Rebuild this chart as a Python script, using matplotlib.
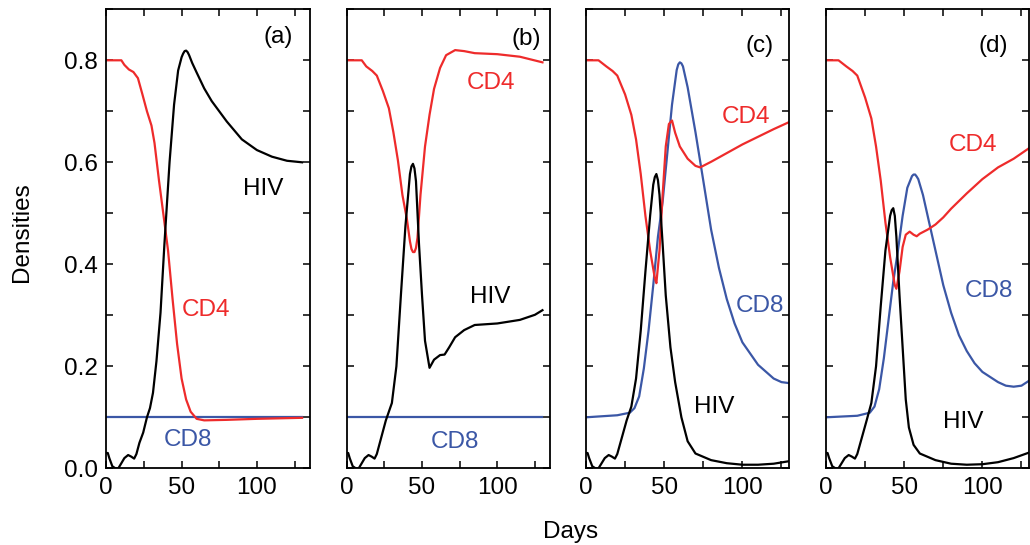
import matplotlib
matplotlib.use('Agg')
import matplotlib.pyplot as plt
from matplotlib.ticker import MultipleLocator

plt.rcParams['font.family'] = ['Liberation Sans', 'DejaVu Sans']
plt.rcParams['font.size'] = 17.5

RED = '#ee2b2b'
BLUE = '#3b57a6'

# panel (a)
a_hiv_days = [0, 1, 2, 4, 6, 8, 10, 12, 14.5, 16.5, 18.5, 20, 22, 24.5, 27, 29, 31, 33.3, 36, 38.6,
              42, 45, 47.7, 50, 51, 52, 53, 54, 55, 57, 60, 65, 70, 80, 90, 100, 110, 120, 130]
a_hiv = [0.03, 0.03, 0.02, 0.004, 0.0, 0.0, 0.01, 0.02, 0.026, 0.023, 0.019, 0.028, 0.05, 0.07, 0.1,
         0.118, 0.148, 0.21, 0.305, 0.44, 0.6, 0.713, 0.78, 0.806, 0.813, 0.818, 0.819, 0.816, 0.81,
         0.795, 0.776, 0.745, 0.72, 0.68, 0.645, 0.624, 0.611, 0.603, 0.6]
a_cd4_days = [0, 10, 12, 15, 18, 21, 24, 27, 30, 32, 35, 38, 41, 44, 47, 50, 53, 56, 60, 65, 80, 100, 130]
a_cd4 = [0.8, 0.8, 0.791, 0.782, 0.777, 0.765, 0.733, 0.70, 0.672, 0.638, 0.564, 0.496, 0.427, 0.332,
         0.244, 0.176, 0.135, 0.111, 0.097, 0.094, 0.095, 0.097, 0.099]
a_cd8_days = [0, 130]
a_cd8 = [0.1, 0.1]

# panel (b)
b_hiv_days = [0, 1, 2, 4, 6, 8, 10, 12, 14.5, 16.5, 18.5, 20, 22, 26, 30, 33, 36, 39, 42, 43, 44, 45,
              46, 48, 50, 52, 55, 58, 62, 65, 68, 72, 78, 85, 100, 115, 125, 130]
b_hiv = [0.03, 0.03, 0.02, 0.004, 0.0, 0.0, 0.01, 0.02, 0.026, 0.023, 0.019, 0.028, 0.05, 0.094,
         0.128, 0.2, 0.34, 0.475, 0.577, 0.592, 0.597, 0.588, 0.563, 0.44, 0.34, 0.25, 0.197, 0.213,
         0.222, 0.223, 0.237, 0.257, 0.271, 0.281, 0.284, 0.291, 0.301, 0.31]
b_cd4_days = [0, 10, 13, 17, 20, 24, 28, 31, 34, 37, 40, 42, 43, 44, 45, 46, 47, 49, 52, 55, 58, 62,
              66, 72, 78, 85, 100, 115, 130]
b_cd4 = [0.8, 0.8, 0.788, 0.779, 0.77, 0.74, 0.706, 0.659, 0.604, 0.536, 0.488, 0.445, 0.43, 0.424,
         0.424, 0.432, 0.452, 0.536, 0.631, 0.693, 0.744, 0.785, 0.81, 0.82, 0.818, 0.814, 0.812,
         0.807, 0.796]
b_cd8_days = [0, 130]
b_cd8 = [0.1, 0.1]

# panel (c)
c_hiv_days = [0, 1, 2, 4, 6, 8, 10, 12, 14.5, 16.5, 18.5, 20, 22, 26, 29, 32, 35, 38, 41, 43, 44, 45,
              46, 47, 49, 51, 54, 57, 61, 65, 70, 80, 90, 100, 110, 120, 130]
c_hiv = [0.03, 0.03, 0.02, 0.004, 0.0, 0.0, 0.01, 0.02, 0.026, 0.023, 0.019, 0.028, 0.05, 0.094,
         0.121, 0.176, 0.27, 0.386, 0.495, 0.556, 0.571, 0.577, 0.565, 0.536, 0.44, 0.339, 0.237,
         0.169, 0.1, 0.053, 0.029, 0.016, 0.01, 0.007, 0.007, 0.009, 0.014]
c_cd4_days = [0, 8, 13, 17, 20, 25, 29, 32, 35, 38, 41, 44, 45, 47, 49, 51, 53, 55, 57, 60, 65, 70,
              73, 80, 90, 100, 110, 120, 130]
c_cd4 = [0.8, 0.8, 0.788, 0.779, 0.77, 0.733, 0.693, 0.645, 0.577, 0.495, 0.427, 0.373, 0.363,
         0.427, 0.536, 0.631, 0.675, 0.682, 0.658, 0.631, 0.607, 0.593, 0.59, 0.601, 0.618, 0.635,
         0.65, 0.665, 0.679]
c_cd8_days = [0, 10, 20, 28, 31, 34, 37, 40, 43, 46, 49, 52, 55, 58, 59, 60, 61, 62, 65, 70, 75, 80,
              85, 90, 95, 100, 110, 120, 125, 130]
c_cd8 = [0.1, 0.102, 0.104, 0.109, 0.118, 0.141, 0.196, 0.27, 0.359, 0.454, 0.523, 0.618, 0.713,
         0.781, 0.792, 0.796, 0.794, 0.788, 0.747, 0.659, 0.564, 0.468, 0.393, 0.332, 0.284, 0.247,
         0.203, 0.176, 0.169, 0.167]

# panel (d)
d_hiv_days = [0, 1, 2, 4, 6, 8, 10, 12, 14.5, 16.5, 18.5, 20, 22, 26, 29, 32, 35, 38, 41, 42, 43, 44,
              45, 47, 49, 51, 53, 56, 60, 70, 80, 90, 100, 110, 120, 130]
d_hiv = [0.03, 0.03, 0.02, 0.004, 0.0, 0.0, 0.01, 0.02, 0.026, 0.023, 0.019, 0.028, 0.05, 0.094,
         0.128, 0.2, 0.318, 0.427, 0.495, 0.506, 0.51, 0.495, 0.454, 0.339, 0.237, 0.135, 0.08,
         0.046, 0.029, 0.016, 0.009, 0.007, 0.008, 0.012, 0.02, 0.031]
d_cd4_days = [0, 8, 13, 17, 20, 25, 29, 32, 35, 38, 41, 44, 45, 47, 49, 51, 53.5, 56, 58, 60, 65, 70,
              75, 80, 90, 100, 110, 120, 130]
d_cd4 = [0.8, 0.8, 0.788, 0.779, 0.77, 0.727, 0.686, 0.631, 0.564, 0.482, 0.414, 0.359, 0.352,
         0.386, 0.434, 0.458, 0.464, 0.458, 0.455, 0.46, 0.468, 0.478, 0.492, 0.509, 0.539, 0.567,
         0.59, 0.607, 0.628]
d_cd8_days = [0, 20, 28, 31, 34, 37, 40, 43, 46, 49, 52, 55, 56, 57, 58, 59, 62, 65, 70, 75, 80, 85,
              90, 95, 100, 110, 115, 120, 125, 130]
d_cd8 = [0.1, 0.103, 0.109, 0.121, 0.155, 0.216, 0.291, 0.366, 0.427, 0.495, 0.55, 0.573, 0.576,
         0.576, 0.572, 0.567, 0.536, 0.495, 0.427, 0.359, 0.305, 0.261, 0.23, 0.206, 0.189, 0.169,
         0.162, 0.16, 0.162, 0.172]

panels = [
    ('(a)', 135, (a_hiv_days, a_hiv), (a_cd4_days, a_cd4), (a_cd8_days, a_cd8),
     {'(a)': (114, 0.846), 'HIV': (104, 0.548), 'CD4': (66.5, 0.31), 'CD8': (54.3, 0.055)}),
    ('(b)', 135, (b_hiv_days, b_hiv), (b_cd4_days, b_cd4), (b_cd8_days, b_cd8),
     {'(b)': (119, 0.842), 'HIV': (95.6, 0.335), 'CD4': (95.6, 0.756), 'CD8': (72, 0.051)}),
    ('(c)', 130, (c_hiv_days, c_hiv), (c_cd4_days, c_cd4), (c_cd8_days, c_cd8),
     {'(c)': (111, 0.829), 'HIV': (82, 0.12), 'CD4': (102, 0.689), 'CD8': (111.5, 0.318)}),
    ('(d)', 130, (d_hiv_days, d_hiv), (d_cd4_days, d_cd4), (d_cd8_days, d_cd8),
     {'(d)': (107, 0.829), 'HIV': (87.5, 0.09), 'CD4': (94, 0.633), 'CD8': (104, 0.347)}),
]

lefts = [106.3, 346.7, 586, 826]
label_colors = {'HIV': 'black', 'CD4': RED, 'CD8': BLUE}

fig = plt.figure(figsize=(10.3, 5.45), dpi=100)

for i, (name, xmax, hiv, cd4, cd8, labels) in enumerate(panels):
    ax = fig.add_axes([lefts[i] / 1030, 76.7 / 545, 203.3 / 1030, 459 / 545])
    ax.plot(cd8[0], cd8[1], color=BLUE, lw=1.6)
    ax.plot(cd4[0], cd4[1], color=RED, lw=1.6)
    ax.plot(hiv[0], hiv[1], color='black', lw=1.6)
    ax.set_xlim(0, xmax)
    ax.set_ylim(0, 0.9)
    ax.xaxis.set_major_locator(MultipleLocator(50))
    ax.xaxis.set_minor_locator(MultipleLocator(25))
    ax.yaxis.set_major_locator(MultipleLocator(0.2))
    ax.yaxis.set_minor_locator(MultipleLocator(0.1))
    ax.tick_params(which='both', direction='in', top=True, right=True, length=5, width=1.1)
    ax.tick_params(labelsize=17.5, pad=6)
    if i > 0:
        ax.tick_params(labelleft=False)
    for sp in ax.spines.values():
        sp.set_linewidth(1.3)
    for s, (x, y) in labels.items():
        ax.text(x, y, s, ha='center', va='center', fontsize=17.5, color=label_colors.get(s, 'black'))

fig.text(22 / 1030, 1 - 232 / 545, 'Densities', rotation=90, ha='center', va='center', fontsize=17.5)
fig.text(571 / 1030, 1 - 532 / 545, 'Days', ha='center', va='center', fontsize=17.5)

fig.savefig('out.png', dpi=100)
